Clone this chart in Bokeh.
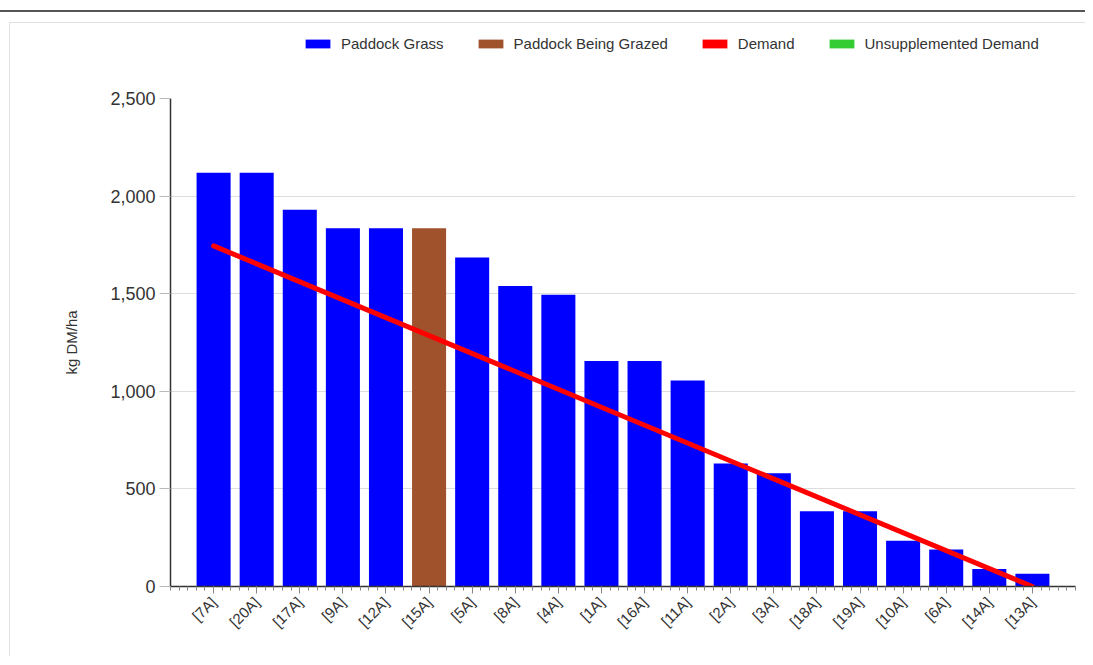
import math
from bokeh.plotting import figure
from bokeh.layouts import column
from bokeh.models import (ColumnDataSource, FixedTicker, NumeralTickFormatter,
                          Legend, LegendItem, Range1d)
from bokeh.embed import file_html
from bokeh.resources import INLINE

# ---- data ----
paddocks = ["[7A]", "[20A]", "[17A]", "[9A]", "[12A]", "[15A]", "[5A]", "[8A]",
            "[4A]", "[1A]", "[16A]", "[11A]", "[2A]", "[3A]", "[18A]", "[19A]",
            "[10A]", "[6A]", "[14A]", "[13A]"]
grass = [2120, 2120, 1930, 1835, 1835, 1835, 1685, 1540, 1495, 1155, 1155,
         1055, 630, 580, 385, 385, 235, 190, 90, 65]
grazed_paddock = "[15A]"
demand_paddocks = ["[7A]", "[13A]"]
demand_values = [1745, 0]
y_ticks = [0, 500, 1000, 1500, 2000, 2500]
legend_labels = ["Paddock Grass", "Paddock Being Grazed", "Demand", "Unsupplemented Demand"]

BLUE = "#0000ff"
BROWN = "#a0522d"
RED = "#ff0000"
GREEN = "#33cc33"
TEXT = "#333333"
FONT = "Liberation Sans"
W = 1075
LEG_H = 40
BL, BR = 160, 10

idx = list(range(len(paddocks)))
grass_src = ColumnDataSource(dict(x=[i for i, p in zip(idx, paddocks) if p != grazed_paddock],
                                  top=[g for g, p in zip(grass, paddocks) if p != grazed_paddock]))
grazed_src = ColumnDataSource(dict(x=[i for i, p in zip(idx, paddocks) if p == grazed_paddock],
                                   top=[g for g, p in zip(grass, paddocks) if p == grazed_paddock]))
demand_src = ColumnDataSource(dict(x=[paddocks.index(p) for p in demand_paddocks],
                                   y=demand_values))

# ---- legend strip (separate figure above the chart) ----
lf = figure(width=W, height=LEG_H, output_backend="svg", toolbar_location=None,
            x_range=Range1d(0, 1), y_range=Range1d(0, 1),
            x_axis_location=None, y_axis_location=None,
            min_border_left=BL, min_border_right=BR, min_border_top=0, min_border_bottom=0)
lf.outline_line_color = None
lf.grid.visible = False
# zero-height swatch renderers, used only for the legend keys
swatch_src = ColumnDataSource(dict(x=[0.5], top=[0]))
leg_renderers = [lf.vbar(x="x", top="top", width=0.01, source=swatch_src,
                         fill_color=c, line_color=None)
                 for c in (BLUE, BROWN, RED, GREEN)]
legend = Legend(items=[LegendItem(label=l, renderers=[r]) for l, r in zip(legend_labels, leg_renderers)],
                orientation="horizontal", location=(132, 11),
                glyph_width=31, glyph_height=11, label_standoff=8, spacing=31,
                padding=0, margin=0, border_line_color=None,
                background_fill_alpha=0, label_text_font=FONT,
                label_text_font_size="15px", label_text_color=TEXT,
                label_height=17)
lf.add_layout(legend, "center")

# ---- main chart ----
p = figure(width=W, height=593, output_backend="svg", toolbar_location=None,
           x_range=Range1d(-1, len(paddocks)), y_range=Range1d(0, 2500),
           min_border_left=BL, min_border_right=BR, min_border_top=35,
           min_border_bottom=70)
p.outline_line_color = None
p.background_fill_color = "white"
p.border_fill_color = "white"

p.vbar(x="x", top="top", width=0.79, source=grass_src, fill_color=BLUE, line_color=None)
p.vbar(x="x", top="top", width=0.79, source=grazed_src, fill_color=BROWN, line_color=None)
p.line(x="x", y="y", source=demand_src, line_color=RED, line_width=5, line_cap="round")

p.xgrid.grid_line_color = None
p.ygrid.grid_line_color = "#dddddd"
p.ygrid.grid_line_width = 1

p.yaxis.ticker = FixedTicker(ticks=y_ticks)
p.yaxis.formatter = NumeralTickFormatter(format="0,0")
p.yaxis.axis_label = "kg DM/ha"
p.yaxis.axis_label_text_font = FONT
p.yaxis.axis_label_text_font_style = "normal"
p.yaxis.axis_label_text_font_size = "15px"
p.yaxis.axis_label_text_color = TEXT
p.yaxis.axis_label_standoff = 27
p.yaxis.major_label_text_font = FONT
p.yaxis.major_label_text_font_size = "18px"
p.yaxis.major_label_text_color = TEXT
p.yaxis.axis_line_color = "#333333"
p.yaxis.axis_line_width = 1.5
p.yaxis.major_tick_line_color = "#bbbbbb"
p.yaxis.major_tick_out = 11
p.yaxis.major_tick_in = 0
p.yaxis.minor_tick_line_color = None
p.yaxis.major_label_standoff = 4

p.xaxis.ticker = FixedTicker(ticks=idx,
                             minor_ticks=[k / 5 for k in range(-5, 5 * len(paddocks) + 1)])
p.xaxis.major_label_overrides = {i: name for i, name in zip(idx, paddocks)}
p.xaxis.major_label_orientation = math.pi / 4
p.xaxis.major_label_text_font = FONT
p.xaxis.major_label_text_font_size = "15px"
p.xaxis.major_label_text_color = TEXT
p.xaxis.axis_line_color = "#333333"
p.xaxis.axis_line_width = 1.5
p.xaxis.major_tick_line_color = "#888888"
p.xaxis.major_tick_out = 7
p.xaxis.major_tick_in = 0
p.xaxis.minor_tick_line_color = "#888888"
p.xaxis.minor_tick_out = 4
p.xaxis.minor_tick_in = 0
p.xaxis.major_label_standoff = 6

inner = column(lf, p, spacing=0,
               styles={"border-top": "1px solid #e0e0e0", "border-left": "1px solid #e0e0e0",
                       "margin-left": "9px"})
outer = column(inner, spacing=0,
               styles={"margin-top": "10px", "border-top": "2px solid #555555",
                       "padding-top": "10px"})
open("out.html", "w").write(file_html(outer, INLINE))
